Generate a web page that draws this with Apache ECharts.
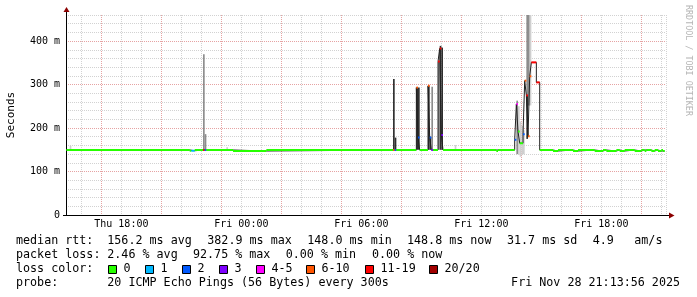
<!DOCTYPE html>
<html><head><meta charset="utf-8">
<script src="https://cdn.jsdelivr.net/npm/echarts@6/dist/echarts.min.js"></script>
<style>html,body{margin:0;padding:0;background:#fff}#c{width:697px;height:297px}</style>
</head><body><div id="c"></div>
<script>
// ---------- DATA ----------
const X_START = '2025-11-27T15:13:56';
const X_END = '2025-11-28T21:13:56';
const DATA_END = '2025-11-28T21:10';

// median rtt runs (each run lasts until the next run's start), value in ms, loss = lost pings of 20
const runTimes = [
  '2025-11-27T15:15','2025-11-27T21:25','2025-11-27T21:30','2025-11-27T21:40','2025-11-27T22:05',
  '2025-11-27T22:10','2025-11-27T22:15','2025-11-27T23:35','2025-11-28T01:15','2025-11-28T07:35',
  '2025-11-28T07:40','2025-11-28T07:45','2025-11-28T08:45','2025-11-28T08:50','2025-11-28T08:55',
  '2025-11-28T09:20','2025-11-28T09:25','2025-11-28T09:30','2025-11-28T09:35','2025-11-28T09:50',
  '2025-11-28T09:55','2025-11-28T10:00','2025-11-28T10:05','2025-11-28T12:45','2025-11-28T12:50',
  '2025-11-28T13:40','2025-11-28T13:45','2025-11-28T13:50','2025-11-28T13:55','2025-11-28T14:05',
  '2025-11-28T14:10','2025-11-28T14:15','2025-11-28T14:20','2025-11-28T14:25','2025-11-28T14:30',
  '2025-11-28T14:45','2025-11-28T14:55','2025-11-28T15:35','2025-11-28T15:50','2025-11-28T16:35',
  '2025-11-28T16:50','2025-11-28T17:40','2025-11-28T18:05','2025-11-28T18:15','2025-11-28T18:45',
  '2025-11-28T18:55','2025-11-28T19:10','2025-11-28T19:40','2025-11-28T20:00','2025-11-28T20:10',
  '2025-11-28T20:15','2025-11-28T20:30','2025-11-28T20:40','2025-11-28T20:50','2025-11-28T21:00',
  '2025-11-28T21:05'
];
const runMedians = [
  149.5,147.8,147.8,149.5,149.5,
  149.5,149.5,147.2,149.5,149.5,
  149.5,149.5,293,178,149.5,
  297,178,149.5,149.5,353,
  383,184,149.5,147.2,149.5,
  173,255,192,165,186,
  309,275,181,319,351,
  305,149.5,147.2,149.5,147.2,
  149.5,147.2,149.5,147.2,149.5,
  147.2,149.5,147.2,149.5,147.2,
  149.5,147.2,149.5,147.2,149.5,
  147.2
];
const runLosses = [
  0,0,1,0,12,
  2,0,0,0,7,
  2,0,7,2,0,
  7,2,3,0,12,
  12,3,0,0,0,
  2,4,0,0,2,
  7,12,7,7,12,
  12,0,0,0,0,
  0,0,0,0,0,
  0,0,0,0,0,
  0,0,0,0,0,
  0
];

// smoke (ping spread) per 5-minute sample: low / high in ms, density 1 (light) .. 3 (dense)
const smokeTimes = [
  '2025-11-27T15:25','2025-11-27T22:05','2025-11-27T22:10','2025-11-27T23:15','2025-11-28T07:35',
  '2025-11-28T07:40','2025-11-28T08:45','2025-11-28T08:50','2025-11-28T09:20','2025-11-28T09:25',
  '2025-11-28T09:30','2025-11-28T09:50','2025-11-28T09:55','2025-11-28T10:00','2025-11-28T10:40',
  '2025-11-28T13:45','2025-11-28T13:50','2025-11-28T13:55','2025-11-28T14:00','2025-11-28T14:05',
  '2025-11-28T14:15','2025-11-28T14:15','2025-11-28T14:20','2025-11-28T14:25'
];
const smokeLow = [149,150,150,149,150, 150,150,150,150,150, 150,150,150,150,150, 140,138,134,138,140, 250,175,252,252];
const smokeHigh = [159,370,186,156,313, 178,293,293,297,180, 295,353,389,385,161, 263,250,215,205,195, 480,275,480,480];
const smokeDensity = [1,2,2,1,3, 3,3,3,3,3, 2,2,3,3,1, 2,1,1,1,1, 2,3,2,1];

const lossLabels = ['0','1','2','3','4-5','6-10','11-19','20/20'];
const lossPalette = ['#26ff00','#00b8ff','#0059ff','#7e00ff','#ff00ff','#ff5500','#ff0000','#a10000'];

const statsRtt = ['156.2 ms avg','382.9 ms max','148.0 ms min','148.8 ms now','31.7 ms sd','4.9','am/s'];
const statsLoss = ['2.46 % avg','92.75 % max','0.00 % min','0.00 % now'];
const probeText = '20 ICMP Echo Pings (56 Bytes) every 300s';
const stampText = 'Fri Nov 28 21:13:56 2025';

// ---------- BUILD ----------
const T = s => new Date(s).getTime();
const STEP = 300000;
function lossBucket(l){ if(l<=0)return 0; if(l===1)return 1; if(l===2)return 2; if(l===3)return 3; if(l<=5)return 4; if(l<=10)return 5; if(l<=19)return 6; return 7; }

const runData = runTimes.map((t,i)=>[T(t), i+1<runTimes.length?T(runTimes[i+1]):T(DATA_END), runMedians[i], runLosses[i]]);
const lineData = runTimes.map((t,i)=>[T(t), runMedians[i]]);
lineData.push([T(DATA_END), runMedians[runMedians.length-1]]);
const smokeData = smokeTimes.map((t,i)=>[T(t), T(t)+STEP, smokeLow[i], smokeHigh[i], smokeDensity[i]]);
const smokeShades = ['#ffffff','#cfcfcf','#8c8c8c','#2e2e2e'];

const MONO = '"DejaVu Sans Mono", monospace';
const DAYS = ['Sun','Mon','Tue','Wed','Thu','Fri','Sat'];
const minorC = '#d2d2d2', majorC = '#e6a3a3';

const chart = echarts.init(document.getElementById('c'), null, {renderer:'canvas'});

function clipRect(params, r){
  return echarts.graphic.clipRectByRect(r, {x:params.coordSys.x, y:params.coordSys.y, width:params.coordSys.width, height:params.coordSys.height});
}

const g = [];
const L1 = 241, L2 = 255, L3 = 269, L4 = 283, FS = 11.7;
const txt = (x,y,s,align) => ({type:'text', x:x, y:y, style:{text:s, font:FS+'px '+MONO, fill:'#000', textVerticalAlign:'middle', textAlign:align||'left'}});
g.push(txt(16,L1,'median rtt:'));
[107.3,207.3,307.3,407,507,592.7,634.3].forEach((x,i)=>g.push(txt(x,L1,statsRtt[i])));
g.push(txt(16,L2,'packet loss:'));
[107.3,193,285.7,372].forEach((x,i)=>g.push(txt(x,L2,statsLoss[i])));
g.push(txt(16,L3,'loss color:'));
const boxX = [108.5,145.5,182.5,219.5,256.5,306.5,365.5,429.5];
lossLabels.forEach((s,i)=>{
  g.push({type:'rect', shape:{x:boxX[i], y:265.5, width:8, height:8}, style:{fill:lossPalette[i], stroke:'#000', lineWidth:1}});
  g.push(txt(boxX[i]+15,L3,s));
});
g.push(txt(16,L4,'probe:'));
g.push(txt(107.3,L4,probeText));
g.push(txt(680,L4,stampText,'right'));
g.push({type:'text', x:688, y:5, rotation:-Math.PI/2, style:{text:'RRDTOOL / TOBI OETIKER', font:'8.4px '+MONO, fill:'#b5b5b5', textVerticalAlign:'middle', textAlign:'left'}});
g.push({type:'line', shape:{x1:66.5,y1:15,x2:66.5,y2:11}, style:{stroke:'#000', lineWidth:1}});
g.push({type:'line', shape:{x1:666,y1:215.5,x2:670,y2:215.5}, style:{stroke:'#000', lineWidth:1}});
g.push({type:'line', shape:{x1:63,y1:215.5,x2:66,y2:215.5}, style:{stroke:'#000', lineWidth:1}});
g.push({type:'polygon', shape:{points:[[63.5,12],[69.5,12],[66.5,7]]}, style:{fill:'#8b0000'}});
g.push({type:'polygon', shape:{points:[[669,212.5],[669,218.5],[674.5,215.5]]}, style:{fill:'#8b0000'}});

const option = {
  animation:false,
  backgroundColor:'#fff',
  grid:{left:66, top:15, width:600, height:200, containLabel:false, outerBoundsMode:'none'},
  xAxis:{
    type:'time', min:T(X_START), max:T(X_END),
    minInterval:3600000, maxInterval:3600000, splitNumber:30,
    axisLine:{lineStyle:{color:'#000', width:1}},
    axisTick:{show:false},
    axisLabel:{
      margin:4, fontFamily:MONO, fontSize:10, color:'#000', hideOverlap:false,
      showMinLabel:false, showMaxLabel:false,
      formatter:function(v){ const d=new Date(v); if(d.getMinutes()===0 && d.getHours()%6===0){ return DAYS[d.getDay()]+' '+String(d.getHours()).padStart(2,'0')+':00'; } return ''; }
    },
    splitLine:{show:true, lineStyle:{color:[minorC,minorC,majorC], width:1, type:[1,1]}}
  },
  yAxis:{
    type:'value', min:0, max:460, interval:20,
    name:'Seconds', nameLocation:'middle', nameGap:49, nameRotate:90,
    nameTextStyle:{fontFamily:MONO, fontSize:11, color:'#000'},
    axisLine:{show:true, lineStyle:{color:'#000', width:1}},
    axisTick:{show:false},
    axisLabel:{margin:6, fontFamily:MONO, fontSize:10, color:'#000',
      formatter:function(v){ if(v%100!==0) return ''; return v===0?'0':v+' m'; }},
    splitLine:{show:true, lineStyle:{color:[majorC,minorC,minorC,minorC,minorC], width:1, type:[1,1]}}
  },
  series:[
    {
      type:'custom', name:'smoke', z:2, clip:true,
      encode:{x:[0,1], y:[2,3]},
      data:smokeData,
      renderItem:function(params, api){
        const a = api.coord([api.value(0), api.value(3)]);
        const b = api.coord([api.value(1), api.value(2)]);
        const r = clipRect(params, {x:a[0], y:a[1], width:b[0]-a[0], height:b[1]-a[1]});
        if(!r) return;
        return {type:'rect', shape:r, style:{fill:smokeShades[api.value(4)]}};
      }
    },
    {
      type:'line', name:'median', z:3, step:'end', showSymbol:false, symbol:'none',
      data:lineData, lineStyle:{color:'#202020', width:1}, itemStyle:{color:'#202020'}
    },
    {
      type:'custom', name:'loss', z:4, clip:true,
      encode:{x:[0,1], y:2},
      data:runData,
      renderItem:function(params, api){
        const a = api.coord([api.value(0), api.value(2)]);
        const b = api.coord([api.value(1), api.value(2)]);
        const r = clipRect(params, {x:a[0], y:a[1]-1, width:b[0]-a[0], height:2});
        if(!r) return;
        return {type:'rect', shape:r, style:{fill:lossPalette[lossBucket(api.value(3))]}};
      }
    }
  ],
  graphic:g
};
chart.setOption(option);
</script>
</body></html>
